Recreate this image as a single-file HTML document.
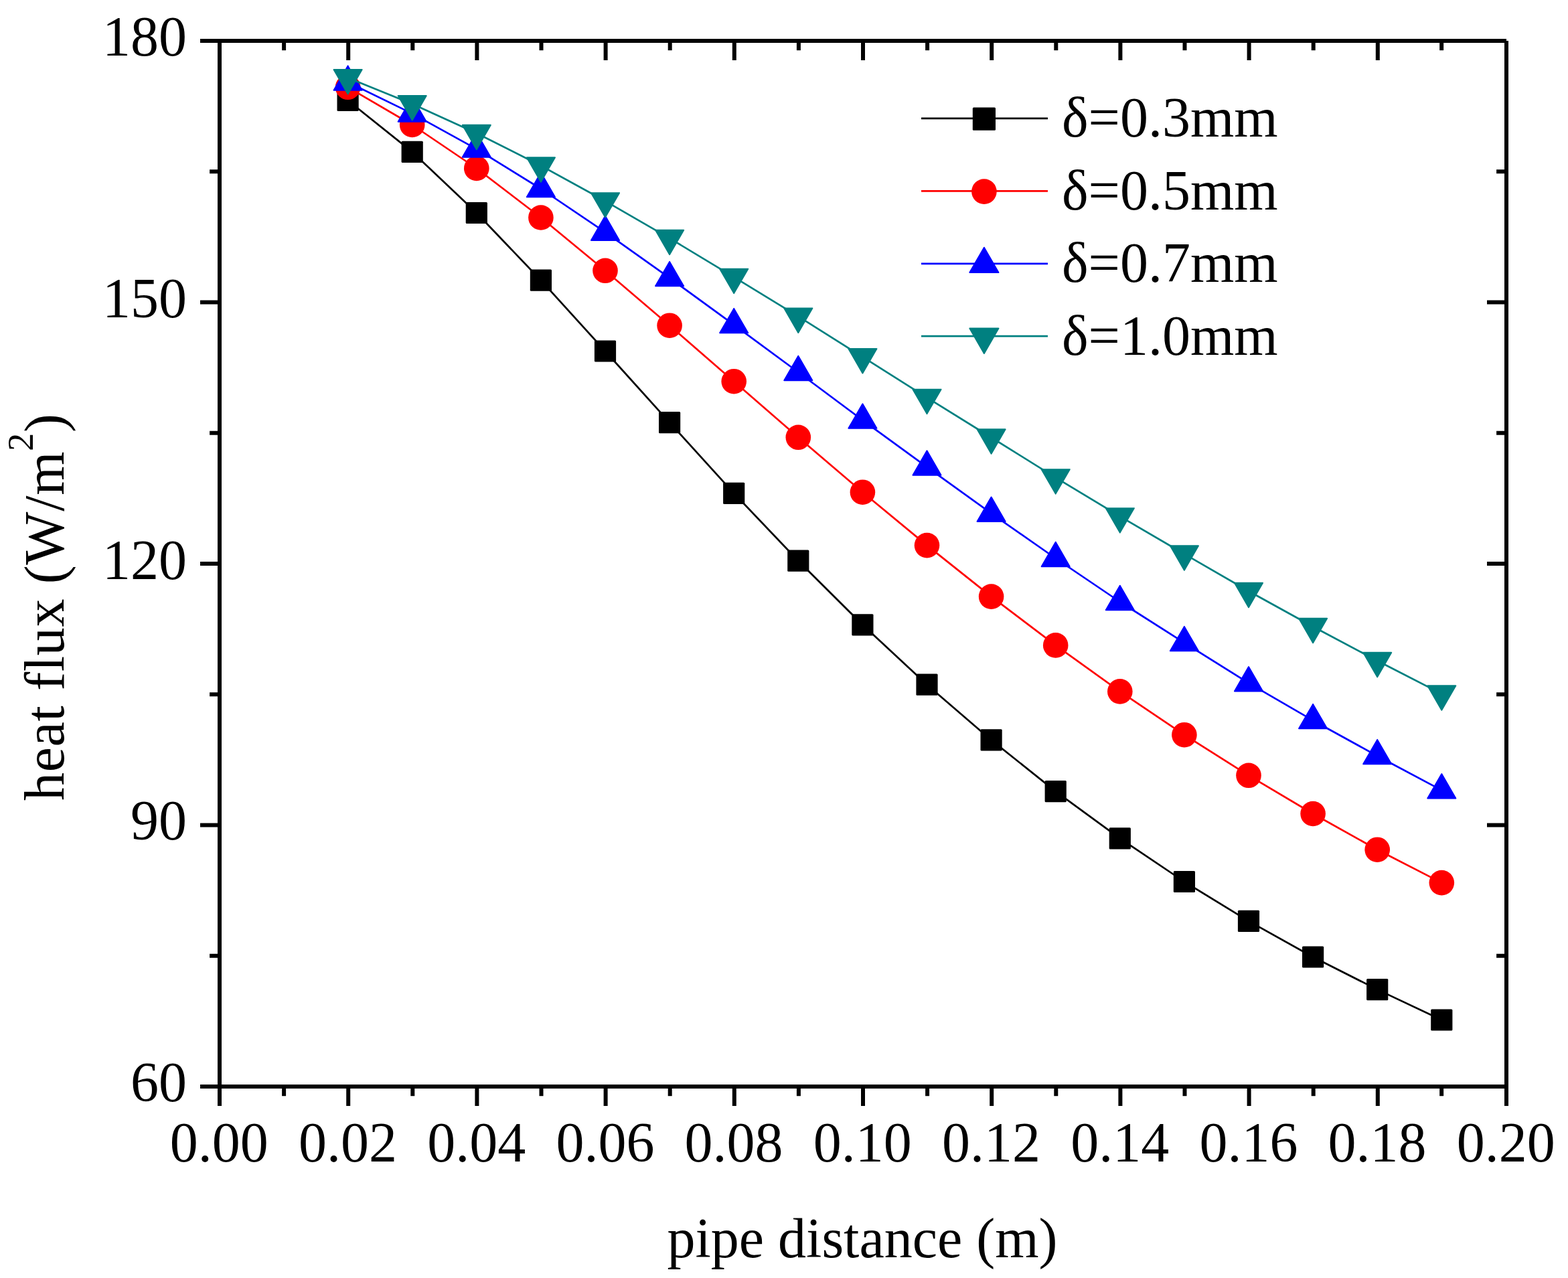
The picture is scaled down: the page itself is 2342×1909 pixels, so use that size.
<!DOCTYPE html>
<html lang="en"><head><meta charset="utf-8"><title>heat flux - pipe distance</title>
<style>
html,body{margin:0;padding:0;background:#fff;}
body{width:2342px;height:1909px;overflow:hidden;}
svg{display:block;}
text{font-family:"Liberation Serif","Times New Roman",Times,serif;fill:#000;}
.t{font-size:84px;}
</style></head><body>
<svg width="2342" height="1909" viewBox="0 0 2342 1909">
<rect x="0" y="0" width="2342" height="1909" fill="#ffffff"/>
<g id="s-black">
<polyline points="519.6,150 615.7,226.9 711.8,318 807.9,418.7 904,524.5 1000.1,631.1 1096.2,736.8 1192.3,837.7 1288.4,933.3 1384.5,1022.7 1480.6,1105.4 1576.7,1182.1 1672.8,1252.3 1768.9,1317 1865,1375.9 1961.1,1429.5 2057.2,1478.1 2153.3,1523.5" fill="none" stroke="#000000" stroke-width="2.7" stroke-linejoin="round"/>
<rect x="503.5" y="133.9" width="32.2" height="32.2" rx="1.5" fill="#000000"/>
<rect x="599.6" y="210.8" width="32.2" height="32.2" rx="1.5" fill="#000000"/>
<rect x="695.7" y="301.9" width="32.2" height="32.2" rx="1.5" fill="#000000"/>
<rect x="791.8" y="402.6" width="32.2" height="32.2" rx="1.5" fill="#000000"/>
<rect x="887.9" y="508.4" width="32.2" height="32.2" rx="1.5" fill="#000000"/>
<rect x="984" y="615" width="32.2" height="32.2" rx="1.5" fill="#000000"/>
<rect x="1080.1" y="720.7" width="32.2" height="32.2" rx="1.5" fill="#000000"/>
<rect x="1176.2" y="821.6" width="32.2" height="32.2" rx="1.5" fill="#000000"/>
<rect x="1272.3" y="917.2" width="32.2" height="32.2" rx="1.5" fill="#000000"/>
<rect x="1368.4" y="1006.6" width="32.2" height="32.2" rx="1.5" fill="#000000"/>
<rect x="1464.5" y="1089.3" width="32.2" height="32.2" rx="1.5" fill="#000000"/>
<rect x="1560.6" y="1166" width="32.2" height="32.2" rx="1.5" fill="#000000"/>
<rect x="1656.7" y="1236.2" width="32.2" height="32.2" rx="1.5" fill="#000000"/>
<rect x="1752.8" y="1300.9" width="32.2" height="32.2" rx="1.5" fill="#000000"/>
<rect x="1848.9" y="1359.8" width="32.2" height="32.2" rx="1.5" fill="#000000"/>
<rect x="1945" y="1413.4" width="32.2" height="32.2" rx="1.5" fill="#000000"/>
<rect x="2041.1" y="1462" width="32.2" height="32.2" rx="1.5" fill="#000000"/>
<rect x="2137.2" y="1507.4" width="32.2" height="32.2" rx="1.5" fill="#000000"/>
</g>
<g id="s-red">
<polyline points="519.6,130.3 615.7,186.5 711.8,251.5 807.9,325 904,404.3 1000.1,486.2 1096.2,569.7 1192.3,653.3 1288.4,735.2 1384.5,814.6 1480.6,891.1 1576.7,963.9 1672.8,1032.9 1768.9,1097.7 1865,1158.3 1961.1,1215.5 2057.2,1269.2 2153.3,1318.6" fill="none" stroke="#ff0000" stroke-width="2.7" stroke-linejoin="round"/>
<circle cx="519.6" cy="130.3" r="18.8" fill="#ff0000"/>
<circle cx="615.7" cy="186.5" r="18.8" fill="#ff0000"/>
<circle cx="711.8" cy="251.5" r="18.8" fill="#ff0000"/>
<circle cx="807.9" cy="325" r="18.8" fill="#ff0000"/>
<circle cx="904" cy="404.3" r="18.8" fill="#ff0000"/>
<circle cx="1000.1" cy="486.2" r="18.8" fill="#ff0000"/>
<circle cx="1096.2" cy="569.7" r="18.8" fill="#ff0000"/>
<circle cx="1192.3" cy="653.3" r="18.8" fill="#ff0000"/>
<circle cx="1288.4" cy="735.2" r="18.8" fill="#ff0000"/>
<circle cx="1384.5" cy="814.6" r="18.8" fill="#ff0000"/>
<circle cx="1480.6" cy="891.1" r="18.8" fill="#ff0000"/>
<circle cx="1576.7" cy="963.9" r="18.8" fill="#ff0000"/>
<circle cx="1672.8" cy="1032.9" r="18.8" fill="#ff0000"/>
<circle cx="1768.9" cy="1097.7" r="18.8" fill="#ff0000"/>
<circle cx="1865" cy="1158.3" r="18.8" fill="#ff0000"/>
<circle cx="1961.1" cy="1215.5" r="18.8" fill="#ff0000"/>
<circle cx="2057.2" cy="1269.2" r="18.8" fill="#ff0000"/>
<circle cx="2153.3" cy="1318.6" r="18.8" fill="#ff0000"/>
</g>
<g id="s-blue">
<polyline points="519.6,122.7 615.7,169.6 711.8,222.6 807.9,282 904,346.9 1000.1,415.2 1096.2,485.2 1192.3,556 1288.4,627.6 1384.5,697.6 1480.6,766.8 1576.7,834 1672.8,899 1768.9,960.2 1865,1020.3 1961.1,1076.2 2057.2,1129.2 2153.3,1180.4" fill="none" stroke="#0000ff" stroke-width="2.7" stroke-linejoin="round"/>
<polygon points="519.6,98.4 540.64,134.85 498.56,134.85" fill="#0000ff" stroke="#0000ff" stroke-width="2" stroke-linejoin="round"/>
<polygon points="615.7,145.3 636.74,181.75 594.66,181.75" fill="#0000ff" stroke="#0000ff" stroke-width="2" stroke-linejoin="round"/>
<polygon points="711.8,198.3 732.84,234.75 690.76,234.75" fill="#0000ff" stroke="#0000ff" stroke-width="2" stroke-linejoin="round"/>
<polygon points="807.9,257.7 828.94,294.15 786.86,294.15" fill="#0000ff" stroke="#0000ff" stroke-width="2" stroke-linejoin="round"/>
<polygon points="904,322.6 925.04,359.05 882.96,359.05" fill="#0000ff" stroke="#0000ff" stroke-width="2" stroke-linejoin="round"/>
<polygon points="1000.1,390.9 1021.14,427.35 979.06,427.35" fill="#0000ff" stroke="#0000ff" stroke-width="2" stroke-linejoin="round"/>
<polygon points="1096.2,460.9 1117.24,497.35 1075.16,497.35" fill="#0000ff" stroke="#0000ff" stroke-width="2" stroke-linejoin="round"/>
<polygon points="1192.3,531.7 1213.34,568.15 1171.26,568.15" fill="#0000ff" stroke="#0000ff" stroke-width="2" stroke-linejoin="round"/>
<polygon points="1288.4,603.3 1309.44,639.75 1267.36,639.75" fill="#0000ff" stroke="#0000ff" stroke-width="2" stroke-linejoin="round"/>
<polygon points="1384.5,673.3 1405.54,709.75 1363.46,709.75" fill="#0000ff" stroke="#0000ff" stroke-width="2" stroke-linejoin="round"/>
<polygon points="1480.6,742.5 1501.64,778.95 1459.56,778.95" fill="#0000ff" stroke="#0000ff" stroke-width="2" stroke-linejoin="round"/>
<polygon points="1576.7,809.7 1597.74,846.15 1555.66,846.15" fill="#0000ff" stroke="#0000ff" stroke-width="2" stroke-linejoin="round"/>
<polygon points="1672.8,874.7 1693.84,911.15 1651.76,911.15" fill="#0000ff" stroke="#0000ff" stroke-width="2" stroke-linejoin="round"/>
<polygon points="1768.9,935.9 1789.94,972.35 1747.86,972.35" fill="#0000ff" stroke="#0000ff" stroke-width="2" stroke-linejoin="round"/>
<polygon points="1865,996 1886.04,1032.45 1843.96,1032.45" fill="#0000ff" stroke="#0000ff" stroke-width="2" stroke-linejoin="round"/>
<polygon points="1961.1,1051.9 1982.14,1088.35 1940.06,1088.35" fill="#0000ff" stroke="#0000ff" stroke-width="2" stroke-linejoin="round"/>
<polygon points="2057.2,1104.9 2078.24,1141.35 2036.16,1141.35" fill="#0000ff" stroke="#0000ff" stroke-width="2" stroke-linejoin="round"/>
<polygon points="2153.3,1156.1 2174.34,1192.55 2132.26,1192.55" fill="#0000ff" stroke="#0000ff" stroke-width="2" stroke-linejoin="round"/>
</g>
<g id="s-teal">
<polyline points="519.6,116.2 615.7,155.2 711.8,199 807.9,247.5 904,300.3 1000.1,355.9 1096.2,413.8 1192.3,472.6 1288.4,533.2 1384.5,593.8 1480.6,653.5 1576.7,713.3 1672.8,771.3 1768.9,827.5 1865,883 1961.1,936 2057.2,987 2153.3,1036.4" fill="none" stroke="#008080" stroke-width="2.7" stroke-linejoin="round"/>
<polygon points="519.6,140.5 540.64,104.05 498.56,104.05" fill="#008080" stroke="#008080" stroke-width="2" stroke-linejoin="round"/>
<polygon points="615.7,179.5 636.74,143.05 594.66,143.05" fill="#008080" stroke="#008080" stroke-width="2" stroke-linejoin="round"/>
<polygon points="711.8,223.3 732.84,186.85 690.76,186.85" fill="#008080" stroke="#008080" stroke-width="2" stroke-linejoin="round"/>
<polygon points="807.9,271.8 828.94,235.35 786.86,235.35" fill="#008080" stroke="#008080" stroke-width="2" stroke-linejoin="round"/>
<polygon points="904,324.6 925.04,288.15 882.96,288.15" fill="#008080" stroke="#008080" stroke-width="2" stroke-linejoin="round"/>
<polygon points="1000.1,380.2 1021.14,343.75 979.06,343.75" fill="#008080" stroke="#008080" stroke-width="2" stroke-linejoin="round"/>
<polygon points="1096.2,438.1 1117.24,401.65 1075.16,401.65" fill="#008080" stroke="#008080" stroke-width="2" stroke-linejoin="round"/>
<polygon points="1192.3,496.9 1213.34,460.45 1171.26,460.45" fill="#008080" stroke="#008080" stroke-width="2" stroke-linejoin="round"/>
<polygon points="1288.4,557.5 1309.44,521.05 1267.36,521.05" fill="#008080" stroke="#008080" stroke-width="2" stroke-linejoin="round"/>
<polygon points="1384.5,618.1 1405.54,581.65 1363.46,581.65" fill="#008080" stroke="#008080" stroke-width="2" stroke-linejoin="round"/>
<polygon points="1480.6,677.8 1501.64,641.35 1459.56,641.35" fill="#008080" stroke="#008080" stroke-width="2" stroke-linejoin="round"/>
<polygon points="1576.7,737.6 1597.74,701.15 1555.66,701.15" fill="#008080" stroke="#008080" stroke-width="2" stroke-linejoin="round"/>
<polygon points="1672.8,795.6 1693.84,759.15 1651.76,759.15" fill="#008080" stroke="#008080" stroke-width="2" stroke-linejoin="round"/>
<polygon points="1768.9,851.8 1789.94,815.35 1747.86,815.35" fill="#008080" stroke="#008080" stroke-width="2" stroke-linejoin="round"/>
<polygon points="1865,907.3 1886.04,870.85 1843.96,870.85" fill="#008080" stroke="#008080" stroke-width="2" stroke-linejoin="round"/>
<polygon points="1961.1,960.3 1982.14,923.85 1940.06,923.85" fill="#008080" stroke="#008080" stroke-width="2" stroke-linejoin="round"/>
<polygon points="2057.2,1011.3 2078.24,974.85 2036.16,974.85" fill="#008080" stroke="#008080" stroke-width="2" stroke-linejoin="round"/>
<polygon points="2153.3,1060.7 2174.34,1024.25 2132.26,1024.25" fill="#008080" stroke="#008080" stroke-width="2" stroke-linejoin="round"/>
</g>
<g id="axes" stroke="#000" stroke-width="6" fill="none" stroke-linecap="butt">
<line x1="299" y1="61" x2="2250" y2="61"/>
<line x1="299" y1="1623" x2="2253" y2="1623"/>
<line x1="328" y1="58" x2="328" y2="1652"/>
<line x1="2250" y1="61" x2="2250" y2="1652"/>
<line x1="424.1" y1="1623" x2="424.1" y2="1637.2"/>
<line x1="424.1" y1="61" x2="424.1" y2="75.2"/>
<line x1="520.2" y1="1623" x2="520.2" y2="1652"/>
<line x1="520.2" y1="61" x2="520.2" y2="90"/>
<line x1="616.3" y1="1623" x2="616.3" y2="1637.2"/>
<line x1="616.3" y1="61" x2="616.3" y2="75.2"/>
<line x1="712.4" y1="1623" x2="712.4" y2="1652"/>
<line x1="712.4" y1="61" x2="712.4" y2="90"/>
<line x1="808.5" y1="1623" x2="808.5" y2="1637.2"/>
<line x1="808.5" y1="61" x2="808.5" y2="75.2"/>
<line x1="904.6" y1="1623" x2="904.6" y2="1652"/>
<line x1="904.6" y1="61" x2="904.6" y2="90"/>
<line x1="1000.7" y1="1623" x2="1000.7" y2="1637.2"/>
<line x1="1000.7" y1="61" x2="1000.7" y2="75.2"/>
<line x1="1096.8" y1="1623" x2="1096.8" y2="1652"/>
<line x1="1096.8" y1="61" x2="1096.8" y2="90"/>
<line x1="1192.9" y1="1623" x2="1192.9" y2="1637.2"/>
<line x1="1192.9" y1="61" x2="1192.9" y2="75.2"/>
<line x1="1289" y1="1623" x2="1289" y2="1652"/>
<line x1="1289" y1="61" x2="1289" y2="90"/>
<line x1="1385.1" y1="1623" x2="1385.1" y2="1637.2"/>
<line x1="1385.1" y1="61" x2="1385.1" y2="75.2"/>
<line x1="1481.2" y1="1623" x2="1481.2" y2="1652"/>
<line x1="1481.2" y1="61" x2="1481.2" y2="90"/>
<line x1="1577.3" y1="1623" x2="1577.3" y2="1637.2"/>
<line x1="1577.3" y1="61" x2="1577.3" y2="75.2"/>
<line x1="1673.4" y1="1623" x2="1673.4" y2="1652"/>
<line x1="1673.4" y1="61" x2="1673.4" y2="90"/>
<line x1="1769.5" y1="1623" x2="1769.5" y2="1637.2"/>
<line x1="1769.5" y1="61" x2="1769.5" y2="75.2"/>
<line x1="1865.6" y1="1623" x2="1865.6" y2="1652"/>
<line x1="1865.6" y1="61" x2="1865.6" y2="90"/>
<line x1="1961.7" y1="1623" x2="1961.7" y2="1637.2"/>
<line x1="1961.7" y1="61" x2="1961.7" y2="75.2"/>
<line x1="2057.8" y1="1623" x2="2057.8" y2="1652"/>
<line x1="2057.8" y1="61" x2="2057.8" y2="90"/>
<line x1="2153.15" y1="1623" x2="2153.15" y2="1637.2"/>
<line x1="2153.15" y1="61" x2="2153.15" y2="75.2"/>
<line x1="313.1" y1="256.25" x2="328" y2="256.25"/>
<line x1="2235.1" y1="256.25" x2="2250" y2="256.25"/>
<line x1="299" y1="451.5" x2="328" y2="451.5"/>
<line x1="2221" y1="451.5" x2="2250" y2="451.5"/>
<line x1="313.1" y1="646.75" x2="328" y2="646.75"/>
<line x1="2235.1" y1="646.75" x2="2250" y2="646.75"/>
<line x1="299" y1="842" x2="328" y2="842"/>
<line x1="2221" y1="842" x2="2250" y2="842"/>
<line x1="313.1" y1="1037.25" x2="328" y2="1037.25"/>
<line x1="2235.1" y1="1037.25" x2="2250" y2="1037.25"/>
<line x1="299" y1="1232.5" x2="328" y2="1232.5"/>
<line x1="2221" y1="1232.5" x2="2250" y2="1232.5"/>
<line x1="313.1" y1="1427.75" x2="328" y2="1427.75"/>
<line x1="2235.1" y1="1427.75" x2="2250" y2="1427.75"/>
</g>
<g id="xlabels" class="t" text-anchor="middle">
<text x="327.3" y="1735">0.00</text>
<text x="519.5" y="1735">0.02</text>
<text x="711.7" y="1735">0.04</text>
<text x="903.9" y="1735">0.06</text>
<text x="1096.1" y="1735">0.08</text>
<text x="1288.3" y="1735">0.10</text>
<text x="1480.5" y="1735">0.12</text>
<text x="1672.7" y="1735">0.14</text>
<text x="1864.9" y="1735">0.16</text>
<text x="2057.1" y="1735">0.18</text>
<text x="2249.3" y="1735">0.20</text>
</g>
<g id="ylabels" class="t" text-anchor="end">
<text x="279" y="82.5">180</text>
<text x="279" y="474">150</text>
<text x="279" y="864.5">120</text>
<text x="279" y="1254.2">90</text>
<text x="279" y="1644.5">60</text>
</g>
<text class="t" x="1288" y="1878" text-anchor="middle">pipe distance (m)</text>
<text class="t" id="ytitle" transform="translate(95 1196) rotate(-90)" style="letter-spacing:0.65px">heat flux (W/m<tspan font-size="54" dy="-46">2</tspan><tspan dy="46">)</tspan></text>
<g id="legend">
<line x1="1376" y1="176.9" x2="1565" y2="176.9" stroke="#000000" stroke-width="2.7"/>
<rect x="1452.8" y="160.6" width="34.2" height="34.2" rx="1.5" fill="#000000"/>
<text class="t" x="1586" y="204.1">δ=0.3mm</text>
<line x1="1376" y1="285.3" x2="1565" y2="285.3" stroke="#ff0000" stroke-width="2.7"/>
<circle cx="1469.9" cy="286.1" r="18.8" fill="#ff0000"/>
<text class="t" x="1586" y="312.7">δ=0.5mm</text>
<line x1="1376" y1="393.8" x2="1565" y2="393.8" stroke="#0000ff" stroke-width="2.7"/>
<polygon points="1469.9,369.7 1491.46,407.05 1448.34,407.05" fill="#0000ff" stroke="#0000ff" stroke-width="2" stroke-linejoin="round"/>
<text class="t" x="1586" y="421.3">δ=0.7mm</text>
<line x1="1376" y1="502.2" x2="1565" y2="502.2" stroke="#008080" stroke-width="2.7"/>
<polygon points="1469.9,527.9 1491.46,490.55 1448.34,490.55" fill="#008080" stroke="#008080" stroke-width="2" stroke-linejoin="round"/>
<text class="t" x="1586" y="529.9">δ=1.0mm</text>
</g>
</svg>
</body></html>
